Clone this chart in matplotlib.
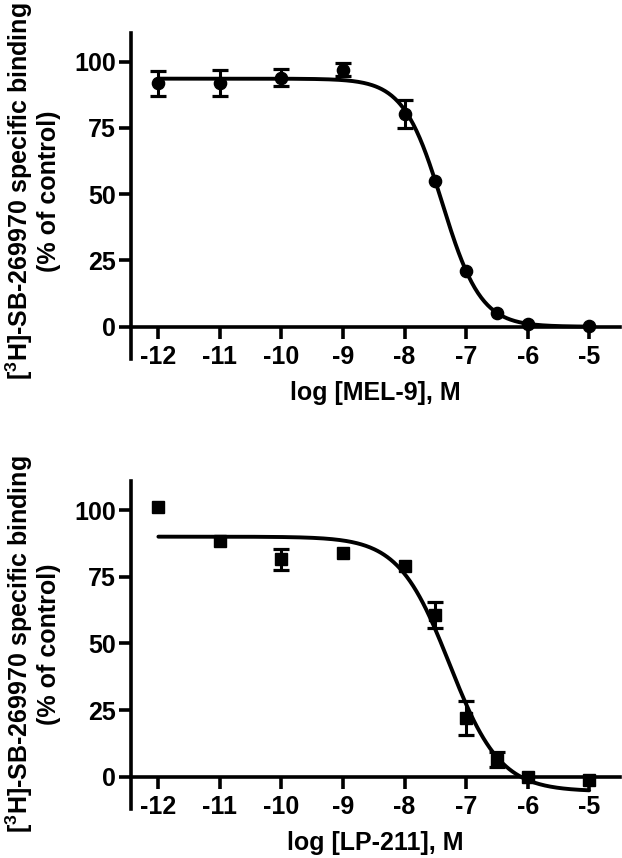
import numpy as np
import matplotlib
matplotlib.use("Agg")
import matplotlib.pyplot as plt

plt.rcParams['font.family'] = ['Liberation Sans', 'DejaVu Sans']
plt.rcParams['font.weight'] = 'bold'
plt.rcParams['mathtext.fontset'] = 'custom'
plt.rcParams['mathtext.rm'] = 'Liberation Sans:bold'
plt.rcParams['mathtext.it'] = 'Liberation Sans:bold'
plt.rcParams['mathtext.bf'] = 'Liberation Sans:bold'

# ---- data ----
log_conc = [-12, -11, -10, -9, -8, -7.5, -7, -6.5, -6, -5]
xticks = [-12, -11, -10, -9, -8, -7, -6, -5]
yticks = [0, 25, 50, 75, 100]

mel9_mean = [91.8, 92.0, 94.0, 97.0, 80.3, 55.1, 21.0, 5.3, 1.0, 0.4]
mel9_err = [4.7, 4.8, 3.3, 2.4, 5.2, 0, 0, 0, 0, 0]
mel9_fit = dict(top=93.6, bottom=0.0, logIC50=-7.39, hill=1.38)

lp211_mean = [101.0, 88.4, 81.5, 83.8, 79.1, 60.6, 21.9, 6.3, 0.0, -1.2]
lp211_err = [0, 0, 3.9, 0, 0, 5.0, 6.4, 2.8, 0, 0]
lp211_fit = dict(top=90.0, bottom=-5.5, logIC50=-7.27, hill=1.05)

xlabels = ["log [MEL-9], M", "log [LP-211], M"]
ylabel = "[$^{3}$H]-SB-269970 specific binding\n(% of control)"

W, H = 622, 858
fig = plt.figure(figsize=(W / 100, H / 100), dpi=100)

def frac_rect(left_px, right_px, top_px, bot_px):
    return [left_px / W, 1 - bot_px / H, (right_px - left_px) / W, (bot_px - top_px) / H]

ylim = (-12, 111)
xlim = (-12.45, -4.5)
FS = 18

panels = [
    dict(mean=mel9_mean, err=mel9_err, fit=mel9_fit, marker='o', ms=8.8,
         rect=frac_rect(130.7, 620, 326.7 - 111 * 2.65, 326.7 + 12 * 2.65),
         xlabel=xlabels[0], zero_px=326.7, ylab_y=191),
    dict(mean=lp211_mean, err=lp211_err, fit=lp211_fit, marker='s', ms=8.2,
         rect=frac_rect(130.7, 620, 776.7 - 111 * 2.667, 776.7 + 12 * 2.667),
         xlabel=xlabels[1], zero_px=776.7, ylab_y=644),
]

for p in panels:
    ax = fig.add_axes(p['rect'])
    ax.set_xlim(*xlim)
    ax.set_ylim(*ylim)
    f = p['fit']
    xs = np.linspace(-12, -5, 400)
    ys = f['bottom'] + (f['top'] - f['bottom']) / (1 + 10 ** ((xs - f['logIC50']) * f['hill']))
    ax.plot(xs, ys, color='black', lw=2.8, zorder=3, solid_capstyle='round')
    x = np.array(log_conc, dtype=float)
    m = np.array(p['mean'], dtype=float)
    e = np.array(p['err'], dtype=float)
    ax.plot(x, m, linestyle='none', marker=p['marker'], ms=p['ms'], color='black', zorder=4)
    sel = e > 0
    ax.errorbar(x[sel], m[sel], yerr=e[sel], fmt='none', ecolor='black',
                elinewidth=2.2, capsize=5.5, capthick=2.3, zorder=4)

    for s in ['top', 'right']:
        ax.spines[s].set_visible(False)
    ax.spines['bottom'].set_position(('data', 0))
    ax.spines['left'].set_linewidth(2.6)
    ax.spines['bottom'].set_linewidth(2.6)
    ax.set_xticks(xticks)
    ax.set_xticklabels([str(t) for t in xticks])
    ax.set_yticks(yticks)
    ax.tick_params(axis='x', direction='out', length=8.5, width=2.6, pad=5, labelsize=FS)
    ax.tick_params(axis='y', direction='out', length=8.5, width=2.6, pad=2, labelsize=FS)
    for lab in ax.get_xticklabels() + ax.get_yticklabels():
        lab.set_fontweight('bold')
    ax.patch.set_alpha(0)

    fig.text(375 / W, 1 - (p['zero_px'] + 66) / H, p['xlabel'], ha='center', va='center',
             fontsize=FS, fontweight='bold')
    fig.text(32 / W, 1 - p['ylab_y'] / H, ylabel, rotation=90, ha='center', va='center',
             fontsize=FS, fontweight='bold', multialignment='center', linespacing=1.1)

fig.savefig("out.png", dpi=100)
